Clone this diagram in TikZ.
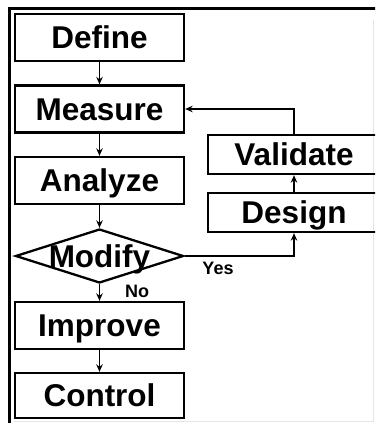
\documentclass[tikz,border=0pt]{standalone}
\usepackage{fontspec}
\setmainfont{Liberation Sans}
\usetikzlibrary{shapes.geometric,arrows.meta}
\begin{document}
\begin{tikzpicture}[x=1pt,y=-1pt,
  stage/.style={draw, line width=2.3pt, inner sep=0pt, minimum width=169pt,
    minimum height=47pt, font=\fontsize{31.5}{31.5}\selectfont\bfseries,
    text height=22pt, text depth=0pt},
  side/.style={stage, minimum width=172pt, minimum height=39pt},
  decision/.style={diamond, draw, line width=2.3pt, inner sep=0pt,
    minimum width=168pt, minimum height=54pt},
  tag/.style={font=\fontsize{18}{18}\selectfont\bfseries, inner sep=0pt,
    text height=13pt, text depth=0pt},
  flow/.style={line width=1.7pt, -{Stealth[length=7.5pt,width=6.5pt]}}]
\useasboundingbox (0,0) rectangle (375,423);
\clip (0,0) rectangle (375,423);
% page frame
\draw[line width=2.2pt] (9.5,424) -- (9.5,8.5) -- (376,8.5);
\draw[gray!20, line width=0.8pt] (14,421.5) -- (373,421.5) -- (373,20);
% main column
\node[stage] (def) at (99.5,37.5) {Define};
\node[stage] (mea) at (99.5,109) {Measure};
\node[stage] (ana) at (99.5,180.5) {Analyze};
\node[decision] (mod) at (99.5,256) {};
\node[font=\fontsize{31.5}{31.5}\selectfont\bfseries, inner sep=0pt,
  text height=22pt, text depth=0pt] (modt) at (mod.center) {Modify};
\node[stage] (imp) at (99.5,325.5) {Improve};
\node[stage, minimum height=45pt] (con) at (99.5,395.5) {Control};
% side loop
\node[side] (val) at (294,154.5) {Validate};
\node[side] (des) at (294,212.5) {Design};
% connectors
\draw[flow] (def) -- (mea);
\draw[flow] (mea) -- (ana);
\draw[flow] (ana) -- (mod);
\draw[flow] (mod) -- (imp);
\draw[flow] (imp) -- (con);
\draw[flow] (mod.east) -| (des.south);
\draw[flow] (des) -- (val);
\draw[flow] (val.north) |- (mea.east);
% branch labels
\node[tag] (yes) at (218,268) {Yes};
\node[tag] (no) at (137,291) {No};
\end{tikzpicture}
\end{document}
